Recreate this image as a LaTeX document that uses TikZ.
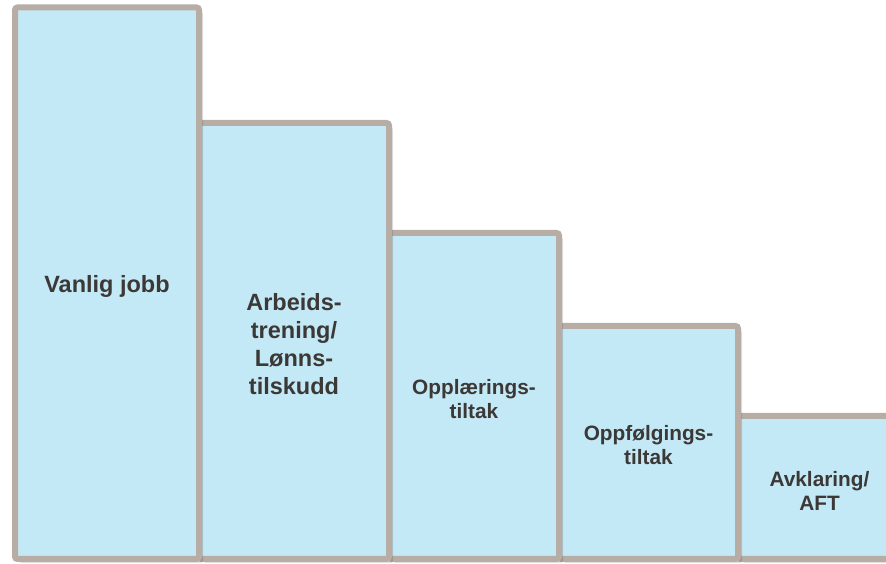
\documentclass[tikz,border=0pt]{standalone}
\usepackage{fontspec}
\setmainfont{Liberation Sans}
\usepackage{xcolor}
\usepackage{tikz}
\usetikzlibrary{
    shadows,
    positioning
}
\definecolor{barfill}{HTML}{C3E8F6}
\definecolor{barline}{HTML}{B8ADA5}
\definecolor{bartext}{HTML}{3C3836}

\tikzset{
    bar/.style={draw=barline, fill=barfill, line width=6pt, rounded corners=2.5pt,
        inner sep=0pt, outer sep=0pt, anchor=south west,
        drop shadow={shadow xshift=4pt, shadow yshift=-4pt, opacity=0.12, fill=black}},
    bartitle/.style={align=center, text=bartext, inner sep=0pt, yshift=-3pt},
    bigtext/.style={bartitle, font=\bfseries\fontsize{23.5}{28}\selectfont},
    smalltext/.style={bartitle, font=\bfseries\fontsize{20.8}{24}\selectfont}
}

\begin{document}
\begin{tikzpicture}[x=1pt,y=1pt]
\useasboundingbox (0,0) rectangle (886,564);
\clip (0,0) rectangle (886,564);

% Steps, drawn from right to left
\node[bar, minimum width=163pt, minimum height=143pt] (avklaring) at (738,5) {};
\node[bar, minimum width=179pt, minimum height=233pt] (oppfolging) at (559,5) {};
\node[bar, minimum width=170pt, minimum height=326pt] (opplaering) at (389,5) {};
\node[bar, minimum width=190pt, minimum height=436pt] (arbeidstrening) at (199,5) {};
\node[bar, minimum width=184pt, minimum height=551.5pt] (jobb) at (15,5) {};

% Labels
\node[bigtext] (jobbtekst) at (jobb.center) {Vanlig jobb};
\node[bigtext] (arbeidstekst) at (arbeidstrening.center) {Arbeids-\\trening/\\Lønns-\\tilskudd};
\node[smalltext] (opplaeringtekst) at (opplaering.center) {Opplærings-\\tiltak};
\node[smalltext] (oppfolgingtekst) at (oppfolging.center) {Oppfølgings-\\tiltak};
\node[smalltext] (avklaringtekst) at (avklaring.center) {Avklaring/\\AFT};
\end{tikzpicture}
\end{document}
